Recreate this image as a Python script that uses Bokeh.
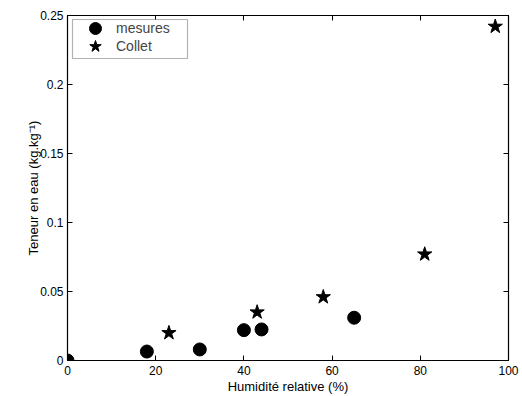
from bokeh.plotting import figure
from bokeh.models import LinearAxis, Range1d, FixedTicker, Legend, LegendItem, BoxAnnotation
from bokeh.embed import file_html
from bokeh.resources import INLINE

mes_x = [0, 18, 30, 40, 44, 65]
mes_y = [0.0, 0.0065, 0.008, 0.022, 0.0225, 0.031]
col_x = [23, 43, 58, 81, 97]
col_y = [0.020, 0.035, 0.046, 0.077, 0.242]

x_ticks = [0, 20, 40, 60, 80, 100]
x_labels = ["0", "20", "40", "60", "80", "100"]
y_ticks = [0, 0.05, 0.1, 0.15, 0.2, 0.25]
y_labels = ["0", "0.05", "0.1", "0.15", "0.2", "0.25"]

FONT = "Liberation Sans"

p = figure(width=522, height=396, output_backend="svg", toolbar_location=None,
           x_range=Range1d(0, 100), y_range=Range1d(0, 0.25),
           min_border_left=67, min_border_right=14, min_border_top=15, min_border_bottom=34,
           x_axis_label="Humidité relative (%)", y_axis_label="Teneur en eau (kg.kg⁻¹)")
p.xgrid.visible = False
p.ygrid.visible = False
p.outline_line_color = "black"
p.outline_line_width = 1.2
p.background_fill_color = "white"
p.border_fill_color = "white"

r1 = p.scatter(mes_x, mes_y, marker="circle", size=13, fill_color="black", line_color="black")
r2 = p.scatter(col_x, col_y, marker="star", size=15, fill_color="black", line_color="black")

for ax, ticks, labels in ((p.xaxis[0], x_ticks, x_labels), (p.yaxis[0], y_ticks, y_labels)):
    ax.ticker = FixedTicker(ticks=ticks)
    ax.major_label_overrides = {t: l for t, l in zip(ticks, labels)}
    ax.minor_tick_line_color = None
    ax.major_tick_in = 5
    ax.major_tick_out = 0
    ax.axis_line_color = "black"
    ax.major_tick_line_color = "black"
    ax.major_label_text_font = FONT
    ax.major_label_text_font_size = "12px"
    ax.major_label_text_color = "black"
    ax.axis_label_text_font = FONT
    ax.axis_label_text_font_size = "13px"
    ax.axis_label_text_font_style = "normal"
    ax.axis_label_text_color = "black"

p.xaxis[0].major_label_standoff = 5
p.xaxis[0].axis_label_standoff = 1
p.yaxis[0].major_label_standoff = 4
p.yaxis[0].axis_label_standoff = -4

top = LinearAxis(ticker=FixedTicker(ticks=x_ticks), major_label_text_font_size="0px",
                 major_tick_in=5, major_tick_out=0, minor_tick_line_color=None,
                 axis_line_color="black", major_tick_line_color="black", major_label_standoff=0)
right = LinearAxis(ticker=FixedTicker(ticks=y_ticks), major_label_text_font_size="0px",
                   major_tick_in=5, major_tick_out=0, minor_tick_line_color=None,
                   axis_line_color="black", major_tick_line_color="black", major_label_standoff=0)
top.major_label_overrides = {t: "" for t in x_ticks}
right.major_label_overrides = {t: "" for t in y_ticks}
p.add_layout(top, "above")
p.add_layout(right, "right")

# legend frame
p.add_layout(BoxAnnotation(left=72, right=187, top=19, bottom=58,
                           left_units="canvas", right_units="canvas",
                           top_units="canvas", bottom_units="canvas",
                           fill_color="white", fill_alpha=1,
                           line_color="black", line_width=1.2, level="overlay"))


def make_legend(label, rend, vy):
    lg = Legend(items=[LegendItem(label=label, renderers=[rend])], location=(9, vy))
    lg.label_text_font = FONT
    lg.label_text_font_size = "14px"
    lg.border_line_color = None
    lg.background_fill_alpha = 0
    lg.margin = 0
    lg.padding = 0
    lg.spacing = 0
    lg.glyph_height = 30
    lg.glyph_width = 38
    lg.label_height = 18
    lg.label_standoff = 2
    lg.level = "overlay"
    return lg


p.add_layout(make_legend("mesures", r1, 317))
p.add_layout(make_legend("Collet", r2, 299))

open("out.html", "w").write(file_html(p, INLINE))
